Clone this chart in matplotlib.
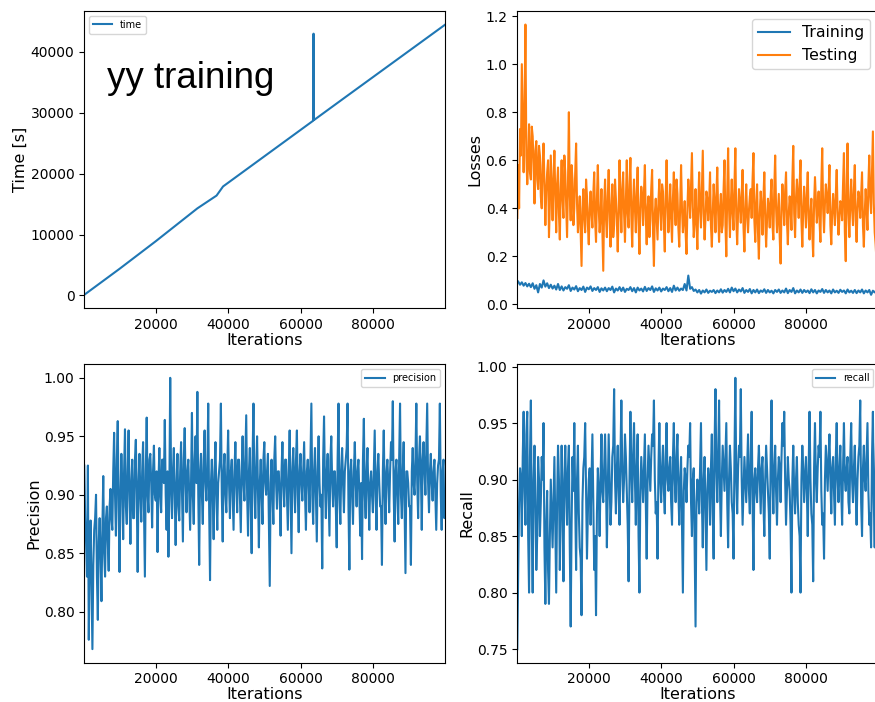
import numpy as np
import matplotlib
matplotlib.use("Agg")
import matplotlib.pyplot as plt

#---------------------------------------------------------------------------------#
# data

# time curve (iteration, seconds), spike at ~63600
time_iters = [250, 10000, 20000, 31500, 36800, 38600, 63500, 63600, 63700,
              72000, 100000]
time_secs = [100, 4370, 8900, 14300, 16400, 17900, 28700, 43000, 28800,
             32400, 44500]

# training loss, one value every 500 iterations
iters_train = np.arange(500, 100001, 500)
# test loss / precision / recall, one value every 250 iterations
iters = np.arange(250, 100001, 250)

train_loss = [
    0.095, 0.082, 0.092, 0.078, 0.089, 0.075, 0.086, 0.072, 0.088, 0.065,
    0.080, 0.050, 0.085, 0.070, 0.100, 0.074, 0.088, 0.068, 0.082, 0.066,
    0.078, 0.062, 0.085, 0.060, 0.075, 0.058, 0.072, 0.065, 0.080, 0.056,
    0.070, 0.062, 0.076, 0.055, 0.068, 0.060, 0.074, 0.052, 0.070, 0.063,
    0.075, 0.056, 0.068, 0.060, 0.072, 0.052, 0.067, 0.058, 0.070, 0.055,
    0.068, 0.060, 0.074, 0.050, 0.066, 0.058, 0.072, 0.056, 0.070, 0.052,
    0.065, 0.060, 0.072, 0.055, 0.068, 0.050, 0.070, 0.058, 0.066, 0.054,
    0.073, 0.056, 0.068, 0.060, 0.075, 0.052, 0.067, 0.058, 0.070, 0.054,
    0.066, 0.060, 0.072, 0.055, 0.068, 0.052, 0.078, 0.058, 0.070, 0.057,
    0.066, 0.060, 0.085, 0.058, 0.120, 0.065, 0.072, 0.056, 0.062, 0.050,
    0.060, 0.045, 0.058, 0.050, 0.062, 0.048, 0.057, 0.052, 0.060, 0.047,
    0.058, 0.050, 0.063, 0.049, 0.060, 0.052, 0.065, 0.050, 0.070, 0.055,
    0.066, 0.050, 0.062, 0.054, 0.068, 0.048, 0.060, 0.052, 0.064, 0.046,
    0.060, 0.050, 0.062, 0.047, 0.058, 0.052, 0.063, 0.048, 0.060, 0.050,
    0.057, 0.046, 0.060, 0.052, 0.062, 0.048, 0.058, 0.050, 0.066, 0.047,
    0.060, 0.052, 0.068, 0.046, 0.058, 0.050, 0.062, 0.048, 0.060, 0.051,
    0.058, 0.047, 0.063, 0.050, 0.060, 0.046, 0.058, 0.052, 0.064, 0.048,
    0.060, 0.050, 0.058, 0.046, 0.062, 0.050, 0.057, 0.048, 0.061, 0.052,
    0.058, 0.046, 0.062, 0.050, 0.057, 0.048, 0.060, 0.047, 0.058, 0.050,
    0.062, 0.046, 0.058, 0.050, 0.060, 0.040, 0.057, 0.050, 0.059, 0.048,
]

test_loss = [
    0.36, 0.58, 0.40, 0.73, 0.62, 1.00, 0.78, 0.55, 0.82, 1.165, 0.62, 0.50, 0.60, 0.75, 0.55, 0.52, 0.74, 0.70, 0.58, 0.42,
    0.64, 0.68, 0.52, 0.48, 0.66, 0.62, 0.45, 0.40, 0.58, 0.67, 0.50, 0.33, 0.47, 0.55, 0.60, 0.28, 0.42, 0.62, 0.48, 0.35,
    0.52, 0.64, 0.45, 0.30, 0.50, 0.57, 0.38, 0.27, 0.48, 0.60, 0.44, 0.36, 0.62, 0.55, 0.42, 0.28, 0.50, 0.80, 0.46, 0.35,
    0.58, 0.52, 0.33, 0.40, 0.55, 0.67, 0.42, 0.30, 0.38, 0.45, 0.30, 0.16, 0.40, 0.48, 0.36, 0.30, 0.52, 0.45, 0.33, 0.25,
    0.40, 0.47, 0.38, 0.32, 0.46, 0.55, 0.35, 0.26, 0.44, 0.58, 0.40, 0.30, 0.37, 0.48, 0.30, 0.14, 0.42, 0.52, 0.36, 0.28,
    0.45, 0.56, 0.38, 0.24, 0.40, 0.50, 0.28, 0.33, 0.52, 0.44, 0.35, 0.22, 0.38, 0.60, 0.42, 0.30, 0.48, 0.55, 0.38, 0.26,
    0.44, 0.60, 0.38, 0.32, 0.50, 0.61, 0.37, 0.24, 0.42, 0.52, 0.40, 0.30, 0.46, 0.57, 0.34, 0.21, 0.40, 0.49, 0.45, 0.33,
    0.47, 0.58, 0.36, 0.25, 0.40, 0.45, 0.28, 0.35, 0.48, 0.56, 0.30, 0.16, 0.38, 0.44, 0.35, 0.27, 0.43, 0.52, 0.40, 0.31,
    0.50, 0.47, 0.33, 0.22, 0.45, 0.60, 0.42, 0.30, 0.38, 0.50, 0.36, 0.26, 0.44, 0.55, 0.40, 0.33, 0.52, 0.46, 0.32, 0.24,
    0.42, 0.58, 0.40, 0.30, 0.36, 0.43, 0.30, 0.21, 0.40, 0.52, 0.45, 0.36, 0.50, 0.63, 0.40, 0.28, 0.35, 0.48, 0.34, 0.23,
    0.42, 0.55, 0.40, 0.32, 0.48, 0.64, 0.38, 0.27, 0.36, 0.47, 0.44, 0.35, 0.42, 0.55, 0.33, 0.24, 0.38, 0.50, 0.42, 0.30,
    0.45, 0.57, 0.38, 0.26, 0.40, 0.46, 0.30, 0.33, 0.48, 0.60, 0.34, 0.20, 0.46, 0.65, 0.40, 0.28, 0.42, 0.52, 0.38, 0.31,
    0.50, 0.65, 0.36, 0.25, 0.38, 0.48, 0.42, 0.34, 0.46, 0.56, 0.32, 0.22, 0.40, 0.50, 0.37, 0.30, 0.39, 0.45, 0.48, 0.36,
    0.52, 0.63, 0.35, 0.26, 0.42, 0.50, 0.30, 0.19, 0.38, 0.47, 0.40, 0.29, 0.44, 0.55, 0.36, 0.24, 0.35, 0.44, 0.40, 0.32,
    0.45, 0.52, 0.33, 0.27, 0.48, 0.62, 0.40, 0.30, 0.38, 0.46, 0.28, 0.17, 0.40, 0.50, 0.42, 0.33, 0.47, 0.55, 0.35, 0.25,
    0.38, 0.45, 0.40, 0.31, 0.52, 0.66, 0.38, 0.28, 0.44, 0.52, 0.45, 0.36, 0.50, 0.60, 0.35, 0.24, 0.40, 0.49, 0.40, 0.32,
    0.46, 0.55, 0.36, 0.27, 0.38, 0.44, 0.30, 0.20, 0.42, 0.53, 0.44, 0.34, 0.40, 0.47, 0.35, 0.26, 0.50, 0.65, 0.40, 0.30,
    0.42, 0.50, 0.45, 0.38, 0.47, 0.58, 0.33, 0.25, 0.38, 0.46, 0.40, 0.33, 0.46, 0.56, 0.38, 0.29, 0.36, 0.43, 0.42, 0.35,
    0.50, 0.63, 0.30, 0.18, 0.50, 0.67, 0.38, 0.28, 0.42, 0.52, 0.40, 0.33, 0.48, 0.58, 0.35, 0.26, 0.40, 0.47, 0.44, 0.36,
    0.46, 0.55, 0.33, 0.24, 0.38, 0.48, 0.40, 0.31, 0.50, 0.62, 0.45, 0.38, 0.55, 0.72, 0.42, 0.30, 0.25, 0.18, 0.37, 0.50,
]

precision = [
    0.925, 0.88, 0.86, 0.83, 0.925, 0.776, 0.85, 0.878, 0.82, 0.768, 0.84, 0.870, 0.88, 0.900, 0.83, 0.793, 0.86, 0.880, 0.85, 0.809,
    0.87, 0.916, 0.85, 0.830, 0.88, 0.890, 0.86, 0.835, 0.89, 0.905, 0.88, 0.870, 0.92, 0.953, 0.90, 0.865, 0.93, 0.963, 0.89, 0.834,
    0.90, 0.935, 0.91, 0.862, 0.92, 0.956, 0.89, 0.875, 0.92, 0.955, 0.90, 0.858, 0.91, 0.930, 0.88, 0.880, 0.93, 0.947, 0.90, 0.834,
    0.91, 0.935, 0.90, 0.877, 0.92, 0.945, 0.89, 0.830, 0.92, 0.966, 0.90, 0.885, 0.93, 0.935, 0.91, 0.872, 0.92, 0.942, 0.90, 0.895,
    0.92, 0.851, 0.91, 0.940, 0.90, 0.885, 0.93, 0.930, 0.91, 0.964, 0.90, 0.870, 0.92, 0.847, 0.90, 1.000, 0.91, 0.880, 0.92, 0.940,
    0.90, 0.857, 0.91, 0.935, 0.89, 0.878, 0.92, 0.945, 0.90, 0.860, 0.93, 0.957, 0.91, 0.885, 0.92, 0.930, 0.90, 0.870, 0.91, 0.970,
    0.90, 0.875, 0.93, 0.950, 0.91, 0.988, 0.90, 0.840, 0.92, 0.935, 0.90, 0.875, 0.93, 0.955, 0.91, 0.895, 0.92, 0.978, 0.89, 0.827,
    0.91, 0.930, 0.90, 0.862, 0.92, 0.945, 0.90, 0.870, 0.91, 0.920, 0.93, 0.978, 0.90, 0.860, 0.92, 0.935, 0.90, 0.885, 0.92, 0.955,
    0.91, 0.880, 0.92, 0.930, 0.90, 0.870, 0.92, 0.945, 0.91, 0.885, 0.93, 0.930, 0.90, 0.868, 0.92, 0.950, 0.91, 0.895, 0.93, 0.968,
    0.90, 0.865, 0.92, 0.940, 0.89, 0.850, 0.93, 0.978, 0.91, 0.880, 0.92, 0.950, 0.90, 0.855, 0.91, 0.930, 0.90, 0.875, 0.93, 0.945,
    0.91, 0.900, 0.92, 0.935, 0.88, 0.822, 0.91, 0.930, 0.90, 0.875, 0.93, 0.950, 0.91, 0.888, 0.92, 0.920, 0.90, 0.865, 0.92, 0.945,
    0.91, 0.890, 0.93, 0.930, 0.90, 0.870, 0.92, 0.955, 0.90, 0.850, 0.92, 0.940, 0.91, 0.885, 0.93, 0.955, 0.90, 0.868, 0.92, 0.935,
    0.91, 0.895, 0.92, 0.945, 0.90, 0.870, 0.92, 0.930, 0.91, 0.885, 0.93, 0.978, 0.90, 0.875, 0.92, 0.940, 0.90, 0.860, 0.92, 0.950,
    0.91, 0.890, 0.90, 0.837, 0.93, 0.967, 0.91, 0.880, 0.92, 0.935, 0.90, 0.865, 0.93, 0.950, 0.91, 0.890, 0.92, 0.920, 0.89, 0.855,
    0.93, 0.978, 0.90, 0.875, 0.92, 0.940, 0.91, 0.885, 0.92, 0.930, 0.94, 0.978, 0.89, 0.836, 0.92, 0.930, 0.90, 0.875, 0.92, 0.945,
    0.91, 0.890, 0.92, 0.930, 0.90, 0.865, 0.91, 0.845, 0.93, 0.965, 0.90, 0.880, 0.92, 0.940, 0.90, 0.870, 0.91, 0.920, 0.90, 0.885,
    0.92, 0.955, 0.90, 0.870, 0.92, 0.935, 0.91, 0.890, 0.89, 0.840, 0.92, 0.955, 0.90, 0.875, 0.92, 0.930, 0.91, 0.885, 0.92, 0.945,
    0.93, 0.980, 0.90, 0.860, 0.92, 0.930, 0.90, 0.875, 0.93, 0.978, 0.90, 0.880, 0.92, 0.945, 0.89, 0.833, 0.92, 0.920, 0.91, 0.890,
    0.89, 0.840, 0.92, 0.940, 0.91, 0.900, 0.93, 0.978, 0.91, 0.880, 0.93, 0.950, 0.92, 0.870, 0.93, 0.945, 0.92, 0.900, 0.94, 0.978,
    0.91, 0.885, 0.92, 0.935, 0.91, 0.895, 0.92, 0.930, 0.90, 0.870, 0.91, 0.925, 0.93, 0.978, 0.90, 0.870, 0.92, 0.930, 0.88, 0.900,
]

recall = [
    0.75, 0.82, 0.88, 0.91, 0.90, 0.85, 0.92, 0.96, 0.89, 0.86, 0.94, 0.96, 0.85, 0.80, 0.92, 0.97, 0.86, 0.80, 0.90, 0.93,
    0.88, 0.82, 0.85, 0.92, 0.90, 0.85, 0.88, 0.92, 0.90, 0.95, 0.84, 0.79, 0.86, 0.89, 0.82, 0.79, 0.85, 0.90, 0.87, 0.84,
    0.88, 0.92, 0.86, 0.80, 0.88, 0.93, 0.90, 0.82, 0.87, 0.93, 0.88, 0.81, 0.90, 0.93, 0.89, 0.86, 0.91, 0.93, 0.84, 0.77,
    0.86, 0.92, 0.89, 0.95, 0.88, 0.82, 0.90, 0.93, 0.87, 0.84, 0.83, 0.78, 0.88, 0.91, 0.92, 0.95, 0.89, 0.83, 0.87, 0.90,
    0.91, 0.86, 0.90, 0.94, 0.88, 0.82, 0.85, 0.78, 0.87, 0.91, 0.89, 0.85, 0.90, 0.94, 0.89, 0.88, 0.91, 0.94, 0.90, 0.84,
    0.89, 0.94, 0.90, 0.86, 0.88, 0.92, 0.93, 0.98, 0.90, 0.87, 0.91, 0.93, 0.89, 0.86, 0.92, 0.97, 0.91, 0.88, 0.90, 0.94,
    0.92, 0.89, 0.86, 0.81, 0.90, 0.96, 0.91, 0.88, 0.92, 0.95, 0.90, 0.86, 0.91, 0.94, 0.85, 0.80, 0.89, 0.92, 0.90, 0.88,
    0.91, 0.94, 0.88, 0.83, 0.90, 0.93, 0.91, 0.89, 0.92, 0.94, 0.93, 0.97, 0.90, 0.87, 0.88, 0.83, 0.91, 0.95, 0.90, 0.88,
    0.91, 0.93, 0.89, 0.87, 0.92, 0.95, 0.90, 0.89, 0.91, 0.92, 0.88, 0.86, 0.92, 0.95, 0.90, 0.88, 0.92, 0.94, 0.89, 0.86,
    0.90, 0.92, 0.86, 0.80, 0.89, 0.91, 0.90, 0.88, 0.91, 0.93, 0.92, 0.95, 0.88, 0.85, 0.90, 0.91, 0.84, 0.77, 0.88, 0.90,
    0.89, 0.87, 0.91, 0.95, 0.88, 0.84, 0.90, 0.92, 0.87, 0.82, 0.89, 0.91, 0.90, 0.86, 0.91, 0.94, 0.87, 0.83, 0.93, 0.98,
    0.91, 0.88, 0.92, 0.97, 0.89, 0.85, 0.90, 0.93, 0.91, 0.89, 0.92, 0.95, 0.88, 0.84, 0.90, 0.93, 0.91, 0.88, 0.87, 0.83,
    0.92, 0.99, 0.90, 0.87, 0.91, 0.93, 0.92, 0.98, 0.90, 0.86, 0.89, 0.92, 0.90, 0.88, 0.91, 0.94, 0.89, 0.87, 0.92, 0.96,
    0.88, 0.82, 0.90, 0.91, 0.89, 0.88, 0.91, 0.93, 0.90, 0.87, 0.91, 0.92, 0.88, 0.85, 0.90, 0.93, 0.91, 0.89, 0.87, 0.83,
    0.92, 0.97, 0.90, 0.87, 0.91, 0.93, 0.89, 0.86, 0.90, 0.92, 0.91, 0.88, 0.92, 0.95, 0.93, 0.96, 0.90, 0.86, 0.89, 0.92,
    0.90, 0.89, 0.86, 0.80, 0.90, 0.93, 0.89, 0.87, 0.90, 0.92, 0.88, 0.86, 0.85, 0.80, 0.90, 0.93, 0.91, 0.88, 0.90, 0.92,
    0.89, 0.85, 0.91, 0.96, 0.90, 0.87, 0.86, 0.81, 0.91, 0.95, 0.90, 0.88, 0.91, 0.93, 0.92, 0.96, 0.89, 0.86, 0.87, 0.83,
    0.90, 0.93, 0.91, 0.89, 0.92, 0.94, 0.90, 0.87, 0.91, 0.92, 0.89, 0.86, 0.92, 0.95, 0.90, 0.88, 0.91, 0.93, 0.89, 0.86,
    0.91, 0.95, 0.90, 0.89, 0.91, 0.92, 0.88, 0.87, 0.92, 0.95, 0.90, 0.88, 0.91, 0.93, 0.89, 0.86, 0.90, 0.92, 0.93, 0.97,
    0.88, 0.85, 0.91, 0.93, 0.90, 0.89, 0.92, 0.95, 0.89, 0.86, 0.87, 0.84, 0.92, 0.96, 0.88, 0.84, 0.91, 0.96, 0.90, 0.92,
]

#---------------------------------------------------------------------------------#

plt.rcParams['xtick.labelsize'] = 10
plt.rcParams['ytick.labelsize'] = 10
plt.rcParams['axes.labelsize'] = 11.5

fig = plt.figure(figsize=(8.75, 7.02), dpi=100)

# right column runs a few pixels past the figure edge, like the picture
ax1 = fig.add_axes([0.0963, 0.5608, 0.4126, 0.4235])
ax2 = fig.add_axes([0.5912, 0.5608, 0.4126, 0.4235])
ax3 = fig.add_axes([0.0963, 0.0560, 0.4126, 0.4251])
ax4 = fig.add_axes([0.5912, 0.0560, 0.4126, 0.4251])

# time
ax1.plot(time_iters, time_secs, label='time')
ax1.set_ylabel('Time [s]', labelpad=2)
ax1.legend(loc='upper left', fontsize=7)
ax1.text(6600, 34000, 'yy training', fontsize=26.5, family='Liberation Sans',
         va='baseline')

# losses
ax2.plot(iters_train, train_loss, label='Training')
ax2.plot(iters, test_loss, label='Testing')
ax2.set_ylabel('Losses', labelpad=2)
ax2.legend(loc='upper right', fontsize=11.3)

# precision
ax3.plot(iters, precision, label='precision')
ax3.set_ylabel('Precision', labelpad=2)
ax3.legend(loc='upper right', fontsize=7)

# recall
ax4.plot(iters, recall, label='recall')
ax4.set_ylabel('Recall', labelpad=2)
ax4.legend(loc='upper right', fontsize=7)

for ax in (ax1, ax2, ax3, ax4):
    ax.set_xlim(iters[0], iters[-1])
    ax.set_xticks([20000, 40000, 60000, 80000])
    ax.set_xlabel('Iterations', labelpad=0.5)

fig.savefig('out.png', dpi=100)
